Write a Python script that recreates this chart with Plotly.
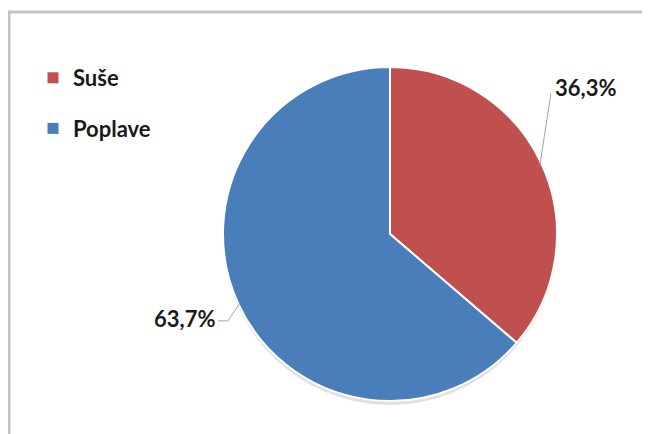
import math
import plotly.graph_objects as go

# data
labels = ["Suše", "Poplave"]
values = [36.3, 63.7]
text_labels = ["36,3%", "63,7%"]
colors = ["#C0504D", "#4A7EBB"]

W, H = 650, 434
PAD = 8  # page body margin the figure sits in
cx, cy, r = 390, 234, 167  # pie centre / radius in page pixels


def px(x):
    return (x - PAD) / W


def py(y):
    return 1 - (y - PAD) / H


fig = go.Figure()

fig.add_trace(go.Pie(
    labels=labels, values=values,
    marker=dict(colors=colors, line=dict(color="white", width=2)),
    direction="clockwise", sort=False, rotation=0,
    textinfo="none", hoverinfo="label+percent",
    showlegend=False,
    domain=dict(x=[px(cx - r), px(cx + r)], y=[py(cy + r), py(cy - r)]),
))

# legend entries (dummy traces so each item gets its own group gap)
for lab, col in zip(labels, colors):
    fig.add_trace(go.Scatter(
        x=[None], y=[None], mode="markers", name=lab, legendgroup=lab,
        marker=dict(symbol="square", size=11, color=col),
    ))

# leader lines + labels computed from slice mid angles
offsets = [
    dict(elbow=(11, -72), end=(11, -72), anchor="left", shift=(2, -6)),
    dict(elbow=(-12, 18), end=(-22, 18), anchor="right", shift=(-1, -2)),
]
shapes = []
annotations = []
start = 90.0
total = sum(values)
for v, txt, off in zip(values, text_labels, offsets):
    sweep = v / total * 360
    mid = math.radians(start - sweep / 2)
    start -= sweep
    ex, ey = cx + (r - 2) * math.cos(mid), cy - (r - 2) * math.sin(mid)
    bx, by = ex + off["elbow"][0], ey + off["elbow"][1]
    tx, ty = ex + off["end"][0], ey + off["end"][1]
    path = f"M {px(ex)},{py(ey)} L {px(bx)},{py(by)} L {px(tx)},{py(ty)}"
    shapes.append(dict(type="path", xref="paper", yref="paper", path=path,
                       line=dict(color="#A6A6A6", width=1)))
    annotations.append(dict(
        x=px(tx + off["shift"][0]), y=py(ty + off["shift"][1]),
        xref="paper", yref="paper", text=f"<b>{txt}</b>", showarrow=False,
        xanchor=off["anchor"], yanchor="middle",
        font=dict(family="Lato", size=22, color="#1a1a1a"),
    ))

# frame lines (top and left) like the source picture
shapes.append(dict(type="line", xref="paper", yref="paper",
                   x0=px(8), x1=1, y0=py(12), y1=py(12),
                   line=dict(color="#C4C4C4", width=3)))
shapes.append(dict(type="line", xref="paper", yref="paper",
                   x0=px(9), x1=px(9), y0=py(12), y1=0,
                   line=dict(color="#C4C4C4", width=3)))
# soft shadow under the pie
shapes.append(dict(type="circle", xref="paper", yref="paper", layer="below",
                   x0=px(cx - r), x1=px(cx + r), y0=py(cy + r + 4), y1=py(cy - r + 2),
                   fillcolor="rgba(0,0,0,0.12)", line=dict(width=0)))

fig.update_layout(
    width=W, height=H,
    margin=dict(l=0, r=0, t=0, b=0),
    paper_bgcolor="white", plot_bgcolor="white",
    xaxis=dict(visible=False), yaxis=dict(visible=False),
    shapes=shapes, annotations=annotations,
    legend=dict(x=px(33), y=py(57), xanchor="left", yanchor="top",
                tracegroupgap=19, itemwidth=30,
                font=dict(family="Lato", size=22, color="#1a1a1a", weight="bold"),
                bgcolor="rgba(0,0,0,0)"),
)

fig.write_html("out.html")
